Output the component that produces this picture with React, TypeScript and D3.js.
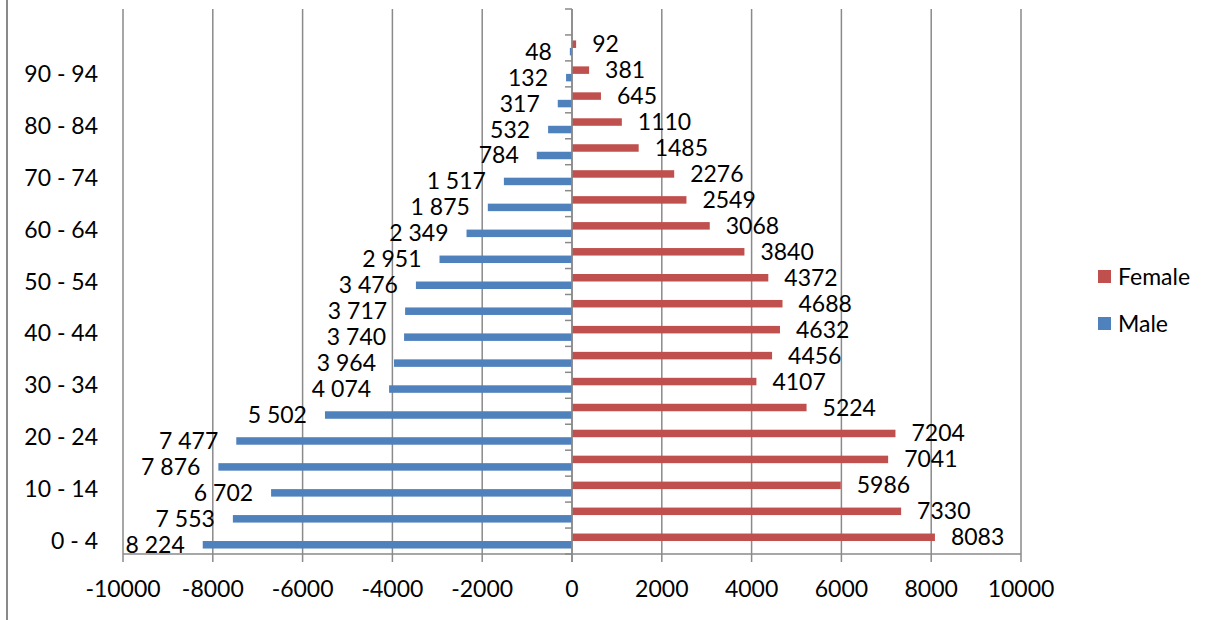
import React from "react";
import * as d3 from "d3";

// Age groups from youngest (bottom) to oldest; the last slot is an empty top row.
const ageGroups: string[] = [
  "0 - 4", "5 - 9", "10 - 14", "15 - 19", "20 - 24", "25 - 29", "30 - 34",
  "35 - 39", "40 - 44", "45 - 49", "50 - 54", "55 - 59", "60 - 64", "65 - 69",
  "70 - 74", "75 - 79", "80 - 84", "85 - 89", "90 - 94", "95 - 99", "",
];

const maleValues: (number | null)[] = [
  8224, 7553, 6702, 7876, 7477, 5502, 4074, 3964, 3740, 3717, 3476,
  2951, 2349, 1875, 1517, 784, 532, 317, 132, 48, null,
];

const femaleValues: (number | null)[] = [
  8083, 7330, 5986, 7041, 7204, 5224, 4107, 4456, 4632, 4688, 4372,
  3840, 3068, 2549, 2276, 1485, 1110, 645, 381, 92, null,
];

const xTicks: number[] = [-10000, -8000, -6000, -4000, -2000, 0, 2000, 4000, 6000, 8000, 10000];

const seriesNames = { female: "Female", male: "Male" };

const W = 1218;
const H = 620;
const plot = { left: 123, right: 1021, top: 9, bottom: 554 };
const MALE = "#4F81BD";
const FEMALE = "#C0504D";
const GRID = "#8a8a8a";
const FONT = "Lato, 'Open Sans', sans-serif";
const FS = 23;

const spaceLocale = d3.formatLocale({ decimal: ",", thousands: " ", grouping: [3], currency: ["", ""] });
const fmtMale = spaceLocale.format(",d");

export default function App() {
  const x = d3.scaleLinear().domain([-10000, 10000]).range([plot.left, plot.right]);
  const y = d3.scaleBand<string>().domain(ageGroups.map((g, i) => g + "|" + i)).range([plot.bottom, plot.top]);
  const bw = y.bandwidth();
  const barH = 7.5;
  const keys = ageGroups.map((g, i) => g + "|" + i);
  const x0 = x(0);

  // band boundaries for the tick marks on the zero axis
  const boundaries = d3.range(ageGroups.length + 1).map((i) => plot.bottom - i * bw);

  return (
    <svg width={W} height={H} style={{ display: "block", position: "absolute", left: 0, top: 0 }} fontFamily={FONT}>
      <rect x={0} y={0} width={W} height={H} fill="#fff" />
      {/* chart frame edge */}
      <line x1={7} x2={7} y1={0} y2={H} stroke={GRID} strokeWidth={2} />

      {/* vertical gridlines with tick stubs below the axis */}
      {xTicks.map((t) => (
        <line key={"g" + t} x1={x(t)} x2={x(t)} y1={plot.top} y2={plot.bottom + 8} stroke={GRID} strokeWidth={1.5} />
      ))}
      {/* horizontal axis */}
      <line x1={plot.left} x2={plot.right} y1={plot.bottom} y2={plot.bottom} stroke={GRID} strokeWidth={1.5} />

      {/* x tick labels */}
      {xTicks.map((t) => (
        <text key={"xl" + t} x={x(t)} y={597} textAnchor="middle" fontSize={FS} fill="#000">
          {String(t)}
        </text>
      ))}

      {/* category labels, every other group */}
      {ageGroups.map((g, i) =>
        i % 2 === 0 && g ? (
          <text key={"yl" + i} x={98} y={(y(keys[i]) as number) + bw / 2 + 8} textAnchor="end" fontSize={FS} fill="#000">
            {g}
          </text>
        ) : null
      )}

      {/* bars */}
      {keys.map((k, i) => {
        const c = (y(k) as number) + bw / 2;
        const f = femaleValues[i];
        const m = maleValues[i];
        return (
          <g key={"b" + i}>
            {f != null && (
              <rect x={x0} y={c - barH} width={x(f) - x0} height={barH} fill={FEMALE} />
            )}
            {m != null && (
              <rect x={x(-m)} y={c} width={x0 - x(-m)} height={barH} fill={MALE} />
            )}
          </g>
        );
      })}

      {/* zero axis with category tick marks */}
      <line x1={x0} x2={x0} y1={plot.top} y2={plot.bottom + 8} stroke={GRID} strokeWidth={1.5} />
      {boundaries.map((b, i) => (
        <line key={"t" + i} x1={x0 - 7} x2={x0} y1={b} y2={b} stroke={GRID} strokeWidth={1.5} />
      ))}

      {/* value labels */}
      {keys.map((k, i) => {
        const c = (y(k) as number) + bw / 2;
        const f = femaleValues[i];
        const m = maleValues[i];
        return (
          <g key={"l" + i}>
            {f != null && (
              <text x={x(f) + 16} y={c - barH / 2 + 8} fontSize={FS} fill="#000">
                {String(f)}
              </text>
            )}
            {m != null && (
              <text x={x(-m) - 18} y={c + barH / 2 + 8} textAnchor="end" fontSize={FS} fill="#000">
                {fmtMale(m)}
              </text>
            )}
          </g>
        );
      })}

      {/* legend */}
      <rect x={1098} y={270} width={13} height={13} fill={FEMALE} />
      <text x={1118} y={284.5} fontSize={FS} fill="#000">{seriesNames.female}</text>
      <rect x={1098} y={317} width={13} height={13} fill={MALE} />
      <text x={1118} y={332} fontSize={FS} fill="#000">{seriesNames.male}</text>
    </svg>
  );
}
